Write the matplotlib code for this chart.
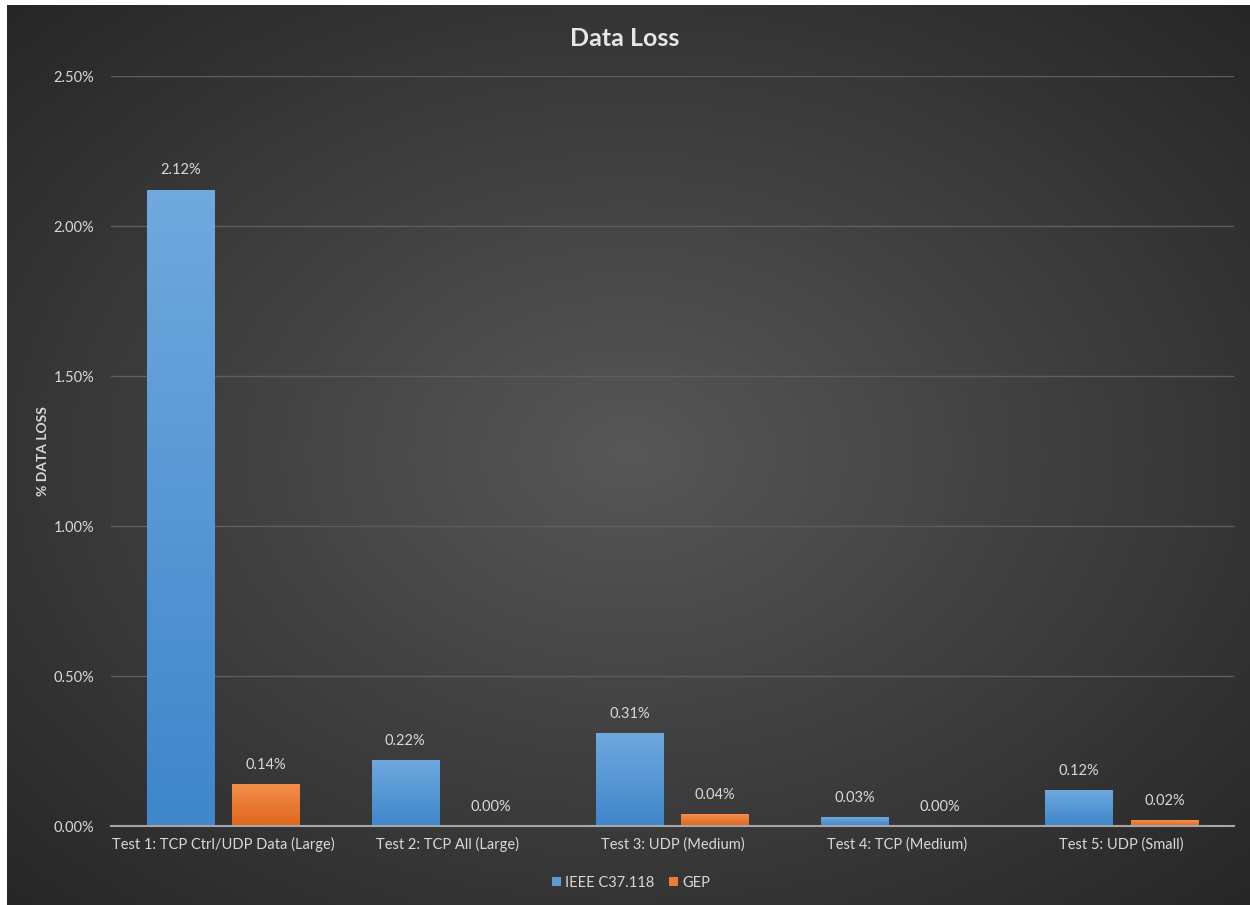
import numpy as np
import matplotlib.pyplot as plt
from matplotlib.colors import LinearSegmentedColormap

# data loss per test, in percent
tests = ['Test 1: TCP Ctrl/UDP Data (Large)', 'Test 2: TCP All (Large)',
         'Test 3: UDP (Medium)', 'Test 4: TCP (Medium)', 'Test 5: UDP (Small)']
ieee = [2.12, 0.22, 0.31, 0.03, 0.12]
gep = [0.14, 0.00, 0.04, 0.00, 0.02]
yticks = [0.0, 0.5, 1.0, 1.5, 2.0, 2.5]

plt.rcParams['font.family'] = ['Lato', 'DejaVu Sans']
txt = '#d9d9d9'

fig = plt.figure(figsize=(12.5, 9.05), dpi=100)
fig.patch.set_facecolor('white')

# donkere achtergrond met radiale gradient
bg = fig.add_axes([7 / 1250, 0, 1 - 7 / 1250, 1 - 5 / 905])
bg.set_axis_off()
yy, xx = np.mgrid[0:1:300j, 0:1:400j]
r = np.sqrt(((xx - 0.5) / 0.75) ** 2 + ((yy - 0.5) / 0.75) ** 2)
bg_cmap = LinearSegmentedColormap.from_list('bg', ['#575757', '#262626'])
bg.imshow(np.clip(r / 0.95, 0, 1), cmap=bg_cmap, vmin=0, vmax=1, aspect='auto',
          extent=[0, 1, 0, 1], interpolation='bilinear')

ax = fig.add_axes([111 / 1250, 1 - 826 / 905, (1234 - 111) / 1250, (826 - 76) / 905])
ax.patch.set_alpha(0)

x = np.arange(len(tests))
w = 0.30
off = 0.19
b1 = ax.bar(x - off, ieee, w, color='#5b9bd5', label='IEEE C37.118', zorder=3)
b2 = ax.bar(x + off, gep, w, color='#ed7d31', label='GEP', zorder=3)

# verloop in de balken (licht boven, donker onder)
grad = np.linspace(1, 0, 100).reshape(-1, 1)
for bars, c_top, c_bot in [(b1, '#6fa9de', '#3f86cb'), (b2, '#f38f4c', '#e0661c')]:
    cm = LinearSegmentedColormap.from_list('g', [c_bot, c_top])
    for b in bars:
        if b.get_height() <= 0:
            continue
        im = ax.imshow(grad, cmap=cm, aspect='auto', zorder=3.5,
                       extent=[b.get_x(), b.get_x() + b.get_width(), 0, b.get_height()])
        im.set_clip_path(b)

for bars in (b1, b2):
    for b in bars:
        ax.annotate(f'{b.get_height():.2f}%', (b.get_x() + b.get_width() / 2, b.get_height()),
                    xytext=(0, 9), textcoords='offset points', ha='center', va='bottom',
                    color=txt, fontsize=10.5)

ax.set_xlim(-0.5, len(tests) - 0.5)
ax.set_ylim(0, 2.5)
ax.set_yticks(yticks)
ax.set_yticklabels([f'{v:.2f}%' for v in yticks])
ax.set_xticks(x)
ax.set_xticklabels(tests)
ax.tick_params(axis='both', colors=txt, labelsize=10.5, length=0)
ax.tick_params(axis='y', pad=12)
ax.tick_params(axis='x', pad=8)
ax.grid(axis='y', color='#5e5e5e', linewidth=1, zorder=0)
for s in ['top', 'right', 'left']:
    ax.spines[s].set_visible(False)
ax.spines['bottom'].set_color('#a6a6a6')
ax.spines['bottom'].set_linewidth(1.5)
ax.spines['bottom'].set_zorder(4)

ax.set_ylabel('% DATA LOSS', color=txt, fontsize=10, fontweight='bold', labelpad=3)
fig.text(0.5, 1 - 38 / 905, 'Data Loss', ha='center', va='center', color='#e6e6e6',
         fontsize=18, fontweight='bold')

leg = fig.legend(handles=[b1, b2], loc='center', bbox_to_anchor=(0.505, 1 - 883 / 905),
                 ncol=2, frameon=False, fontsize=10.5, handlelength=0.6, handleheight=0.6,
                 columnspacing=1.0, handletextpad=0.3)
for t in leg.get_texts():
    t.set_color(txt)

fig.savefig('out.png', dpi=100, facecolor=fig.get_facecolor())
